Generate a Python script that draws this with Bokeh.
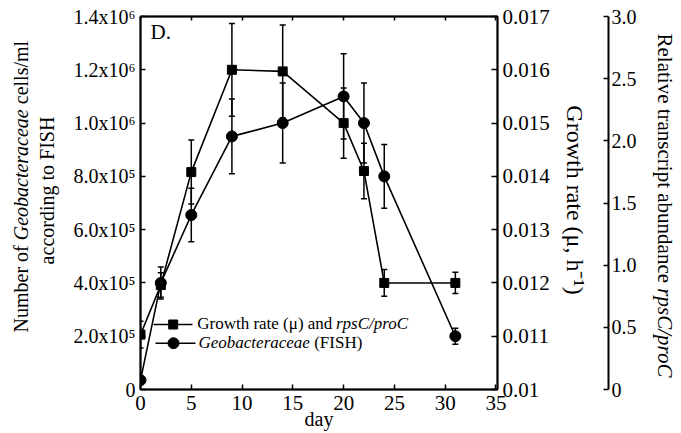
import math
from bokeh.plotting import figure
from bokeh.layouts import row
from bokeh.models import (Range1d, LinearAxis, FixedTicker, Whisker, ColumnDataSource,
                          Label, TeeHead, CustomJSTickFormatter)
from bokeh.embed import file_html
from bokeh.resources import INLINE

# ---------------- data ----------------
days = [0, 2, 5, 9, 14, 20, 22, 24, 31]
growth_rate = [0.01103, 0.01196, 0.01408, 0.0160, 0.01597, 0.0150, 0.0141, 0.0120, 0.0120]
growth_err = [0.00025, 0.00023, 0.0006, 0.00087, 0.00087, 0.00066, 0.00052, 0.00025, 0.0002]
fish_cells = [3.5e4, 4.0e5, 6.55e5, 9.5e5, 1.0e6, 1.1e6, 1.0e6, 8.0e5, 2.0e5]
fish_err = [1.0e4, 6.0e4, 1.0e5, 1.4e5, 1.5e5, 1.6e5, 1.5e5, 1.2e5, 3.0e4]

x_ticks = [0, 5, 10, 15, 20, 25, 30, 35]
left_ticks = [0, 2e5, 4e5, 6e5, 8e5, 1.0e6, 1.2e6, 1.4e6]
left_labels = ["0", "2.0x10⁵", "4.0x10⁵", "6.0x10⁵", "8.0x10⁵", "1.0x10⁶", "1.2x10⁶", "1.4x10⁶"]
mu_ticks = [0.010, 0.011, 0.012, 0.013, 0.014, 0.015, 0.016, 0.017]
mu_labels = ["0.01", "0.011", "0.012", "0.013", "0.014", "0.015", "0.016", "0.017"]
rel_ticks = [0.0, 0.5, 1.0, 1.5, 2.0, 2.5, 3.0]
rel_labels = ["0", "0.5", "1.0", "1.5", "2.0", "2.5", "3.0"]

FONT = "Liberation Serif"

# ---------------- layout helpers ----------------
W, H = 681, 433
LW = 66            # left title strip
RX = 645           # start of right title strip
MW = RX - LW       # main figure width
RW = W - RX
FX0, FX1 = 140.0, 497.0   # frame in page px
FY0, FY1 = 16.0, 389.0
X_END = 35.15
Y_END = 1.4e6
MID = 0.3375       # em offset from text middle to baseline

def xd(px):
    return (px - FX0) / (FX1 - FX0) * X_END

def yd(py):
    return (FY1 - py) / (FY1 - FY0) * Y_END

W_R = {' ': 250, 'N': 722, 'u': 500, 'm': 778, 'b': 500, 'e': 444, 'r': 333, 'o': 500,
       'f': 333, 'c': 444, 'l': 278, 's': 389, '/': 278, 'a': 444, 't': 278, 'i': 278,
       'v': 500, 'n': 500, 'd': 500, 'p': 500, 'R': 667, 'G': 722, 'h': 500, '(': 333,
       ')': 333, 'μ': 500, 'F': 556, 'I': 333, 'S': 556, 'H': 722, 'w': 722, 'g': 500}
W_I = {'G': 722, 'e': 444, 'o': 500, 'b': 500, 'a': 500, 'c': 444, 't': 278, 'r': 389,
       'p': 500, 's': 389, 'C': 667, '/': 278}

def tw(s, size):
    return sum(W_R.get(ch, 500) for ch in s) / 1000.0 * size

def twi(s, size):
    return sum(W_I.get(ch, 500) for ch in s) / 1000.0 * size

# ---------------- main figure ----------------
p = figure(width=MW, height=H, x_range=Range1d(0, X_END), y_range=Range1d(0, Y_END),
           output_backend="svg", toolbar_location=None,
           min_border_left=int(FX0 - LW), min_border_right=int(RX - FX1),
           min_border_top=int(FY0), min_border_bottom=int(H - FY1))
p.extra_y_ranges = {"mu": Range1d(0.010, 0.017), "rel": Range1d(0.0, 3.0)}
p.xgrid.visible = False
p.ygrid.visible = False
p.outline_line_color = "black"
p.outline_line_width = 1.5
p.background_fill_color = "white"
p.border_fill_color = "white"

def style_axis(ax, size="20px", tick_in=5):
    ax.axis_line_color = "black"
    ax.axis_line_width = 2
    ax.major_tick_line_color = "black"
    ax.major_tick_line_width = 1.5
    ax.major_tick_in = tick_in
    ax.major_tick_out = 0
    ax.minor_tick_line_color = None
    ax.major_label_text_font = FONT
    ax.major_label_text_font_size = size
    ax.major_label_text_color = "black"
    ax.axis_label_text_font = FONT
    ax.axis_label_text_font_style = "normal"
    ax.axis_label_text_color = "black"

xa = p.xaxis[0]
xa.ticker = FixedTicker(ticks=x_ticks)
style_axis(xa, size="21px", tick_in=5)
xa.major_label_standoff = 6
xa.axis_label = "day"
xa.axis_label_text_font_size = "20px"
xa.axis_label_standoff = -5

ya = p.yaxis[0]
ya.ticker = FixedTicker(ticks=left_ticks)
ya.major_label_overrides = dict(zip(left_ticks, left_labels))
style_axis(ya, size="20px", tick_in=5)
ya.major_label_standoff = 5

top = LinearAxis(ticker=FixedTicker(ticks=x_ticks),
                 formatter=CustomJSTickFormatter(code="return ''"))
style_axis(top, tick_in=4)
top.major_label_standoff = 0
top.major_label_text_font_size = "0px"
p.add_layout(top, "above")

ax_mu = LinearAxis(y_range_name="mu", ticker=FixedTicker(ticks=mu_ticks),
                   major_label_overrides=dict(zip(mu_ticks, mu_labels)),
                   axis_label="\nGrowth rate (μ,  h⁻¹)")
style_axis(ax_mu, size="21px", tick_in=6)
ax_mu.major_label_standoff = 5
ax_mu.axis_label_text_font_size = "24px"
ax_mu.axis_label_standoff = 9
ax_mu.axis_label_text_line_height = 0.7
p.add_layout(ax_mu, "right")

ax_rel = LinearAxis(y_range_name="rel", ticker=FixedTicker(ticks=rel_ticks),
                    major_label_overrides=dict(zip(rel_ticks, rel_labels)))
style_axis(ax_rel, size="20px", tick_in=5)
ax_rel.major_label_standoff = 3
p.add_layout(ax_rel, "right")

# ---------------- series ----------------
src_g = ColumnDataSource(dict(day=days, v=growth_rate,
                              lo=[a - b for a, b in zip(growth_rate, growth_err)],
                              hi=[a + b for a, b in zip(growth_rate, growth_err)]))
src_f = ColumnDataSource(dict(day=days, v=fish_cells,
                              lo=[a - b for a, b in zip(fish_cells, fish_err)],
                              hi=[a + b for a, b in zip(fish_cells, fish_err)]))

for src, rng in ((src_g, "mu"), (src_f, "default")):
    p.add_layout(Whisker(base="day", upper="hi", lower="lo", source=src, y_range_name=rng,
                         line_color="black", line_width=1.5,
                         upper_head=TeeHead(size=6, line_width=1.5, line_color="black"),
                         lower_head=TeeHead(size=6, line_width=1.5, line_color="black")))

p.line("day", "v", source=src_g, y_range_name="mu", line_color="black", line_width=1.6)
p.scatter("day", "v", source=src_g, y_range_name="mu", marker="square", size=9,
          fill_color="black", line_color="black")
p.line("day", "v", source=src_f, line_color="black", line_width=1.6)
p.scatter("day", "v", source=src_f, marker="circle", size=11,
          fill_color="black", line_color="black")

# ---------------- legend (manual, mixed styles) ----------------
LEG = 17
p.line([xd(153), xd(192)], [yd(324), yd(324)], line_color="black", line_width=1.6)
p.scatter([xd(172.7)], [yd(324)], marker="square", size=9, fill_color="black", line_color="black")
p.line([xd(155), xd(195)], [yd(342.7), yd(342.7)], line_color="black", line_width=1.6)
p.scatter([xd(173)], [yd(342.7)], marker="circle", size=11, fill_color="black", line_color="black")

def lab(text, px, py_base, size, style="normal"):
    """horizontal label in the plot, given the baseline in page px"""
    p.add_layout(Label(x=xd(px), y=yd(py_base - MID * size), text=text, text_font=FONT,
                       text_font_size=f"{size}px", text_font_style=style, text_color="black",
                       text_align="left", text_baseline="middle"))

s1 = "Growth rate (μ) and "
lab(s1, 196.7, 329, LEG)
lab("rpsC/proC", 196.7 + tw(s1, LEG), 329, LEG, style="italic")
s2 = "Geobacteraceae"
lab(s2, 198, 348, LEG, style="italic")
lab("(FISH)", 198 + twi(s2, LEG) + tw(" ", LEG), 348, LEG)

lab("D.", 150, 39, 21)

# ---------------- side strips for the rotated axis titles ----------------
def strip(width):
    f = figure(width=width, height=H, x_range=Range1d(0, width), y_range=Range1d(0, H),
               output_backend="svg", toolbar_location=None, x_axis_type=None, y_axis_type=None,
               min_border_left=0, min_border_right=0, min_border_top=0, min_border_bottom=0)
    f.xgrid.visible = False
    f.ygrid.visible = False
    f.outline_line_color = None
    f.background_fill_color = "white"
    f.border_fill_color = "white"
    return f

def vlab(fig, text, cx, cy, size, angle, style="normal", align="left"):
    """rotated label in canvas px of the strip"""
    fig.add_layout(Label(x=cx, y=cy, x_units="canvas", y_units="canvas", text=text,
                         text_font=FONT, text_font_size=f"{size}px", text_font_style=style,
                         text_color="black", angle=angle, text_align=align,
                         text_baseline="middle"))

left = strip(LW)
TS = 20
a1, a2, a3 = "Number of", "Geobacteraceae", "cells/ml"
y0 = 332
sp = tw(" ", TS)
bx1 = 27 - MID * TS       # baseline x=27, glyph tops face left
bx2 = 53 - MID * TS
vlab(left, a1, bx1, y0, TS, math.pi / 2)
y_a2 = y0 - tw(a1, TS) - sp
vlab(left, a2, bx1, y_a2, TS, math.pi / 2, style="italic")
vlab(left, a3, bx1, y_a2 - twi(a2, TS) - sp, TS, math.pi / 2)
vlab(left, "according to FISH", bx2, 190, TS, math.pi / 2, align="center")

right = strip(RW)
RS = 21
r1, r2 = "Relative transcript abundance", "rpsC/proC"
rbx = 657 - RX + MID * RS   # baseline x=657, glyph tops face right
vlab(right, r1, rbx, 33, RS, -math.pi / 2)
vlab(right, r2, rbx, 33 + tw(r1, RS) + tw(" ", RS), RS, -math.pi / 2, style="italic")

layout = row(left, p, right, spacing=0)
open("out.html", "w").write(file_html(layout, INLINE))
